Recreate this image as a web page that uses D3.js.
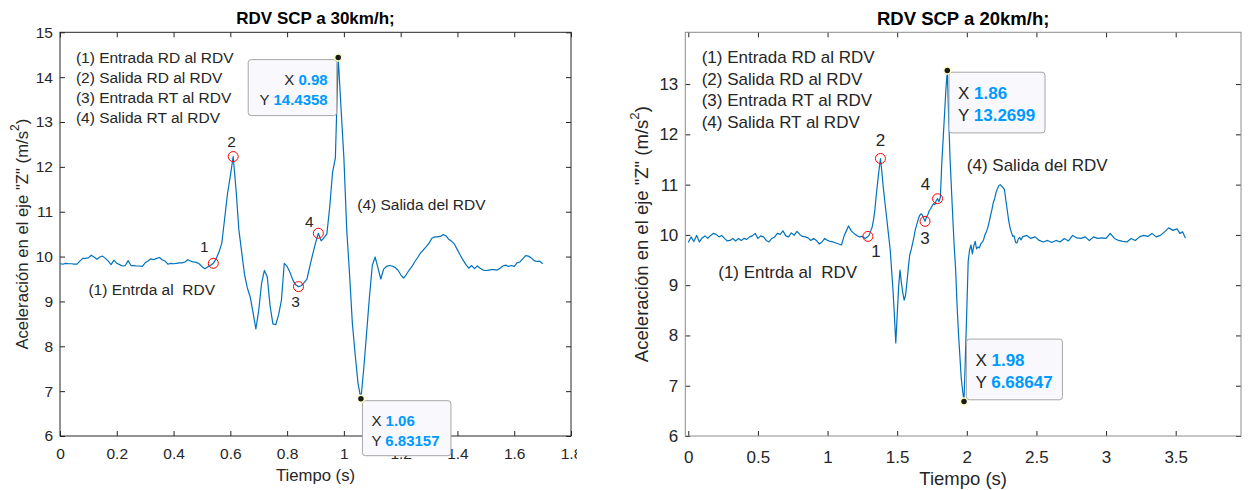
<!DOCTYPE html>
<html>
<head>
<meta charset="utf-8">
<script src="https://cdn.jsdelivr.net/npm/d3@7"></script>
<style>
  body { margin: 0; background: #fff; }
  svg { display: block; font-family: "Liberation Sans", Arial, sans-serif; }
  text { white-space: pre; fill: #262626; }
</style>
</head>
<body>
<svg id="chart" width="1248" height="490"></svg>
<script>
// left panel: 30 km/h, time (s) / acceleration (m/s^2)
const leftSignal = [
  [0.00,9.84],[0.01,9.83],[0.02,9.85],[0.03,9.84],[0.04,9.84],[0.05,9.83],[0.06,9.83],[0.07,9.90],
  [0.08,9.96],[0.09,9.96],[0.10,9.97],[0.11,10.03],[0.12,9.99],[0.13,9.94],[0.14,9.99],[0.15,10.01],
  [0.16,9.96],[0.17,9.90],[0.18,9.82],[0.19,9.92],[0.20,9.85],[0.21,9.82],[0.22,9.79],[0.23,9.80],
  [0.24,9.91],[0.25,9.80],[0.26,9.80],[0.27,9.79],[0.28,9.79],[0.29,9.78],[0.30,9.86],[0.31,9.90],
  [0.32,9.95],[0.33,9.93],[0.34,9.96],[0.35,9.98],[0.36,9.93],[0.37,9.90],[0.38,9.83],[0.39,9.85],
  [0.40,9.84],[0.41,9.85],[0.42,9.86],[0.43,9.86],[0.44,9.88],[0.45,9.93],[0.46,9.90],[0.47,9.88],
  [0.48,9.87],[0.49,9.84],[0.50,9.78],[0.51,9.73],[0.52,9.77],[0.53,9.80],[0.54,9.85],[0.55,9.95],
  [0.56,10.10],[0.57,10.30],[0.58,10.85],[0.59,11.40],[0.60,11.80],[0.61,12.23],[0.62,11.50],[0.63,10.60],
  [0.64,10.10],[0.65,9.60],[0.66,9.30],[0.67,9.10],[0.68,8.75],[0.69,8.39],[0.70,8.80],[0.71,9.40],
  [0.72,9.69],[0.73,9.55],[0.74,8.90],[0.75,8.50],[0.76,8.48],[0.77,8.70],[0.78,9.03],[0.79,9.85],
  [0.80,9.78],[0.81,9.65],[0.82,9.48],[0.83,9.37],[0.84,9.33],[0.85,9.35],[0.86,9.42],[0.87,9.50],
  [0.88,9.78],[0.89,10.05],[0.90,10.30],[0.91,10.52],[0.92,10.35],[0.93,10.42],[0.94,10.50],[0.95,11.10],
  [0.96,11.87],[0.97,12.20],[0.98,14.4358],[0.99,13.30],[1.00,12.20],[1.01,10.60],[1.02,9.60],[1.03,8.50],
  [1.04,7.80],[1.05,7.16],[1.06,6.83157],[1.07,7.50],[1.08,8.30],[1.09,9.10],[1.10,9.80],[1.11,9.99],
  [1.12,9.75],[1.13,9.50],[1.14,9.72],[1.15,9.78],[1.16,9.80],[1.17,9.79],[1.18,9.76],[1.19,9.70],
  [1.20,9.60],[1.21,9.52],[1.22,9.60],[1.23,9.70],[1.24,9.78],[1.25,9.89],[1.26,9.98],[1.27,10.08],
  [1.28,10.15],[1.29,10.22],[1.30,10.30],[1.31,10.41],[1.32,10.44],[1.33,10.44],[1.34,10.45],[1.35,10.49],
  [1.36,10.46],[1.37,10.38],[1.38,10.34],[1.39,10.27],[1.40,10.15],[1.41,10.03],[1.42,9.92],[1.43,9.82],
  [1.44,9.74],[1.45,9.80],[1.46,9.73],[1.47,9.79],[1.48,9.74],[1.49,9.70],[1.50,9.69],[1.51,9.70],
  [1.52,9.71],[1.53,9.71],[1.54,9.70],[1.55,9.74],[1.56,9.79],[1.57,9.81],[1.58,9.78],[1.59,9.80],
  [1.60,9.78],[1.61,9.86],[1.62,9.88],[1.63,9.95],[1.64,10.02],[1.65,10.01],[1.66,9.97],[1.67,9.91],
  [1.68,9.89],[1.69,9.90],[1.70,9.84]
];
const leftMarkTimes = [0.54, 0.61, 0.84, 0.91];
const leftMarkLabels = ["1", "2", "3", "4"];
const leftTips = [[0.98, "0.98", "14.4358"], [1.06, "1.06", "6.83157"]];
const leftXTicks = [0, 0.2, 0.4, 0.6, 0.8, 1, 1.2, 1.4, 1.6, 1.8];
const leftYTicks = [6, 7, 8, 9, 10, 11, 12, 13, 14, 15];

// right panel: 20 km/h
const rightSignal = [
  [0.00,9.85],[0.02,9.96],[0.04,9.87],[0.06,9.99],[0.08,9.86],[0.10,9.94],[0.12,9.98],[0.14,9.93],
  [0.16,9.99],[0.18,10.03],[0.20,10.01],[0.22,9.96],[0.24,9.99],[0.26,9.93],[0.28,9.88],[0.30,9.89],
  [0.32,9.93],[0.34,9.88],[0.36,9.93],[0.38,9.89],[0.40,9.93],[0.42,9.91],[0.44,9.96],[0.46,9.98],
  [0.48,10.03],[0.50,9.93],[0.52,9.98],[0.54,9.96],[0.56,9.89],[0.58,9.86],[0.60,9.93],[0.62,9.96],
  [0.64,10.03],[0.66,10.01],[0.68,10.08],[0.70,9.98],[0.72,9.96],[0.74,10.04],[0.76,9.99],[0.78,10.07],
  [0.80,10.01],[0.82,9.97],[0.84,9.96],[0.86,9.94],[0.88,9.89],[0.90,9.93],[0.92,9.89],[0.94,9.82],
  [0.96,9.86],[0.98,9.93],[1.00,9.89],[1.02,9.87],[1.04,9.86],[1.06,9.84],[1.08,9.82],[1.10,9.80],
  [1.12,9.99],[1.14,10.11],[1.15,10.18],[1.17,10.08],[1.19,10.03],[1.21,9.99],[1.23,9.96],[1.25,9.97],
  [1.27,9.93],[1.29,9.97],[1.30,10.00],[1.31,10.08],[1.32,10.15],[1.33,10.30],[1.34,10.50],[1.35,10.80],
  [1.36,11.05],[1.37,11.30],[1.38,11.52],[1.39,11.25],[1.40,10.95],[1.41,10.70],[1.42,10.45],[1.43,10.20],
  [1.44,9.95],[1.45,9.70],[1.46,9.30],[1.47,8.90],[1.48,8.40],[1.49,7.85],[1.50,8.40],[1.51,8.95],
  [1.52,9.30],[1.53,9.05],[1.54,8.85],[1.55,8.70],[1.56,8.80],[1.57,9.05],[1.58,9.35],[1.59,9.60],
  [1.60,9.70],[1.61,9.82],[1.62,9.95],[1.63,10.10],[1.64,10.20],[1.65,10.30],[1.66,10.38],[1.67,10.42],
  [1.68,10.40],[1.69,10.33],[1.70,10.27],[1.71,10.35],[1.72,10.40],[1.73,10.48],[1.74,10.52],[1.75,10.57],
  [1.76,10.62],[1.77,10.60],[1.78,10.68],[1.79,10.72],[1.80,10.66],[1.81,10.75],[1.82,11.40],[1.83,11.90],
  [1.84,12.40],[1.85,12.90],[1.86,13.2699],[1.87,12.30],[1.88,11.50],[1.89,10.90],[1.90,10.30],[1.91,9.75],
  [1.92,9.30],[1.93,8.60],[1.94,8.05],[1.95,7.60],[1.96,7.15],[1.97,6.90],[1.98,6.68647],[1.99,7.60],
  [2.00,8.50],[2.01,9.48],[2.02,9.70],[2.03,9.80],[2.04,9.62],[2.05,9.78],[2.06,9.87],[2.07,9.72],
  [2.08,9.76],[2.09,9.74],[2.10,9.82],[2.11,9.85],[2.12,9.90],[2.13,10.00],[2.14,10.06],[2.15,10.14],
  [2.16,10.25],[2.17,10.38],[2.18,10.50],[2.19,10.64],[2.20,10.72],[2.21,10.84],[2.22,10.92],[2.23,10.98],
  [2.24,11.00],[2.25,10.97],[2.26,10.94],[2.27,10.90],[2.28,10.70],[2.29,10.50],[2.30,10.30],[2.31,10.15],
  [2.32,10.05],[2.33,9.97],[2.34,9.98],[2.35,9.85],[2.36,9.84],[2.37,9.92],[2.38,9.95],[2.39,9.90],
  [2.40,9.96],[2.43,9.99],[2.46,9.93],[2.49,9.96],[2.52,9.89],[2.55,9.86],[2.58,9.89],[2.61,9.85],
  [2.64,9.89],[2.67,9.86],[2.70,9.93],[2.73,9.88],[2.76,9.99],[2.79,9.94],[2.82,9.93],[2.85,9.96],
  [2.88,9.89],[2.91,9.96],[2.94,9.93],[2.97,9.94],[3.00,9.93],[3.03,10.03],[3.06,9.93],[3.09,9.89],
  [3.12,9.87],[3.15,9.86],[3.18,9.93],[3.21,9.89],[3.24,9.96],[3.27,9.99],[3.30,9.97],[3.33,10.03],
  [3.36,9.96],[3.39,9.99],[3.42,10.06],[3.45,10.14],[3.48,10.09],[3.51,10.12],[3.53,10.03],[3.55,10.06],
  [3.57,9.94]
];
const rightMarkTimes = [1.29, 1.38, 1.70, 1.79];
const rightMarkLabels = ["1", "2", "3", "4"];
const rightTips = [[1.86, "1.86", "13.2699"], [1.98, "1.98", "6.68647"]];
const rightXTicks = [0, 0.5, 1, 1.5, 2, 2.5, 3, 3.5];
const rightYTicks = [6, 7, 8, 9, 10, 11, 12, 13];

const legendLines = ["(1) Entrada RD al RDV", "(2) Salida RD al RDV", "(3) Entrada RT al RDV", "(4) Salida RT al RDV"];

const svg = d3.select("#chart");

function valueAt(signal, t) {
  const p = signal.find((d) => Math.abs(d[0] - t) < 1e-6);
  return p[1];
}

function drawPanel(cfg) {
  const g = svg.append("g");
  if (cfg.clipRight) {
    svg.append("clipPath").attr("id", cfg.id + "clip")
      .append("rect").attr("x", 0).attr("y", 0).attr("width", cfg.clipRight).attr("height", 490);
    g.attr("clip-path", `url(#${cfg.id}clip)`);
  }
  const x = d3.scaleLinear().domain(cfg.xDomain).range([cfg.left, cfg.right]);
  const y = d3.scaleLinear().domain(cfg.yDomain).range([cfg.bottom, cfg.top]);
  const fs = cfg.font;

  // axes with inward ticks
  const xb = g.append("g").attr("transform", `translate(0,${cfg.bottom})`)
    .call(d3.axisBottom(x).tickValues(cfg.xTicks).tickFormat(d3.format("~g"))
      .tickSizeInner(-5).tickSizeOuter(0).tickPadding(cfg.xPad));
  g.append("g").attr("transform", `translate(0,${cfg.top})`)
    .call(d3.axisTop(x).tickValues(cfg.xTicks).tickFormat("").tickSizeInner(-5).tickSizeOuter(0));
  const yl = g.append("g").attr("transform", `translate(${cfg.left},0)`)
    .call(d3.axisLeft(y).tickValues(cfg.yTicks).tickSizeInner(-5).tickSizeOuter(0).tickPadding(cfg.yPad));
  g.append("g").attr("transform", `translate(${cfg.right},0)`)
    .call(d3.axisRight(y).tickValues(cfg.yTicks).tickFormat("").tickSizeInner(-5).tickSizeOuter(0));
  g.selectAll(".domain").remove();
  g.selectAll(".tick line").attr("stroke", "#262626");
  g.selectAll(".tick text").attr("fill", "#262626").style("font-size", fs + "px")
    .style("font-family", "'Liberation Sans', Arial, sans-serif");

  g.append("rect")
    .attr("x", cfg.left).attr("y", cfg.top)
    .attr("width", cfg.right - cfg.left).attr("height", cfg.bottom - cfg.top)
    .attr("fill", "none").attr("stroke", cfg.boxColor).attr("stroke-width", 1);

  // titles and labels
  const cx = (cfg.left + cfg.right) / 2;
  g.append("text").attr("x", cx).attr("y", 18).attr("text-anchor", "middle")
    .attr("dominant-baseline", "central").style("font-weight", "bold")
    .style("font-size", cfg.titleFont + "px").style("fill", "#000").text(cfg.title);
  g.append("text").attr("x", cx).attr("y", cfg.xLabelY).attr("text-anchor", "middle")
    .attr("dominant-baseline", "central").style("font-size", cfg.labelFont + "px").text("Tiempo (s)");
  const ylab = g.append("text")
    .attr("transform", `translate(${cfg.yLabelX},${(cfg.top + cfg.bottom) / 2}) rotate(-90)`)
    .attr("text-anchor", "middle").attr("dominant-baseline", "central")
    .style("font-size", cfg.labelFont + "px");
  ylab.append("tspan").text('Aceleración en el eje "Z" (m/s');
  ylab.append("tspan").attr("dy", -cfg.labelFont * 0.4).style("font-size", (cfg.labelFont * 0.72) + "px").text("2");
  ylab.append("tspan").attr("dy", cfg.labelFont * 0.4).text(")");

  // signal
  const line = d3.line().x((d) => x(d[0])).y((d) => y(d[1]));
  g.append("path").datum(cfg.signal).attr("d", line)
    .attr("fill", "none").attr("stroke", "#0072bd").attr("stroke-width", 1.2)
    .attr("stroke-linejoin", "round");

  // red markers and their numbers
  cfg.markTimes.forEach((t, i) => {
    const px = x(t), py = y(valueAt(cfg.signal, t));
    g.append("circle").attr("cx", px).attr("cy", py).attr("r", 5)
      .attr("fill", "none").attr("stroke", "#ff0000").attr("stroke-width", 1);
    g.append("text").attr("x", px + cfg.markOffsets[i][0]).attr("y", py + cfg.markOffsets[i][1])
      .attr("text-anchor", "middle").attr("dominant-baseline", "central")
      .style("font-size", fs + "px").text(cfg.markLabels[i]);
  });

  // annotation text
  legendLines.forEach((s, i) => {
    g.append("text").attr("x", x(cfg.legendAt[0])).attr("y", y(cfg.legendAt[1]) + i * cfg.legendStep)
      .attr("dominant-baseline", "central").style("font-size", fs + "px").text(s);
  });
  g.append("text").attr("x", x(cfg.exitAt[0])).attr("y", y(cfg.exitAt[1]))
    .attr("dominant-baseline", "central").style("font-size", fs + "px").text("(4) Salida del RDV");
  g.append("text").attr("x", x(cfg.entryAt[0])).attr("y", y(cfg.entryAt[1]))
    .attr("dominant-baseline", "central").style("font-size", fs + "px").text("(1) Entrda al  RDV");

  // data tips
  cfg.tips.forEach((tip, i) => {
    const px = x(tip[0]), py = y(valueAt(cfg.signal, tip[0]));
    const b = cfg.tipBoxes[i];
    const bx = px + b[0], by = py + b[1];
    g.append("rect").attr("x", bx).attr("y", by).attr("width", b[2]).attr("height", b[3])
      .attr("rx", 3).attr("fill", "#f9f9fd").attr("stroke", "#a6a6a6").attr("stroke-width", 1);
    const rightAligned = b[4];
    const tx = rightAligned ? bx + b[2] - 9 : bx + 9;
    ["X", "Y"].forEach((k, j) => {
      const t = g.append("text").attr("x", tx).attr("y", by + b[3] * (j === 0 ? 0.35 : 0.71))
        .attr("text-anchor", rightAligned ? "end" : "start").attr("dominant-baseline", "central")
        .style("font-size", cfg.tipFont + "px");
      t.append("tspan").style("fill", "#262626").text(k + " ");
      t.append("tspan").style("fill", "#0099ff").style("font-weight", "bold").text(tip[j + 1]);
    });
    g.append("circle").attr("cx", px).attr("cy", py).attr("r", 3.5)
      .attr("fill", "#1a1a1a").attr("stroke", "#ffffc4").attr("stroke-width", 1.5);
  });
}

drawPanel({
  id: "left", clipRight: 577,
  left: 60, right: 571, top: 32.3, bottom: 436,
  xDomain: [0, 1.8], yDomain: [6, 15],
  xTicks: leftXTicks, yTicks: leftYTicks, xPad: 12, yPad: 7,
  font: 15.5, titleFont: 17, labelFont: 16.7, tipFont: 15,
  boxColor: "#262626", title: "RDV SCP a 30km/h;",
  xLabelY: 475, yLabelX: 22,
  signal: leftSignal, markTimes: leftMarkTimes, markLabels: leftMarkLabels,
  markOffsets: [[-9, -17], [-1.5, -15], [-3, 15], [-9, -12]],
  legendAt: [0.056, 14.43], legendStep: 20,
  exitAt: [1.047, 11.16], entryAt: [0.1, 9.27],
  tips: leftTips,
  tipBoxes: [[-90, 2, 88.5, 56, true], [1.5, 2, 88.5, 55, false]]
});

drawPanel({
  id: "right", clipRight: null,
  left: 685.3, right: 1241, top: 32.3, bottom: 436,
  xDomain: [-0.0215, 3.969], yDomain: [6, 14.03],
  xTicks: rightXTicks, yTicks: rightYTicks, xPad: 14.5, yPad: 7,
  font: 17, titleFont: 18.5, labelFont: 18.5, tipFont: 17,
  boxColor: "#8c8c8c", title: "RDV SCP a 20km/h;",
  xLabelY: 478, yLabelX: 641,
  signal: rightSignal, markTimes: rightMarkTimes, markLabels: rightMarkLabels,
  markOffsets: [[8, 15], [0, -18], [0, 17], [-12, -14.5]],
  legendAt: [0.096, 13.52], legendStep: 21.5,
  exitAt: [2.0, 11.38], entryAt: [0.215, 9.25],
  tips: rightTips,
  tipBoxes: [[1.7, 1.7, 96, 60.7, false], [2.4, -62.4, 96, 60.7, false]]
});
</script>
</body>
</html>
